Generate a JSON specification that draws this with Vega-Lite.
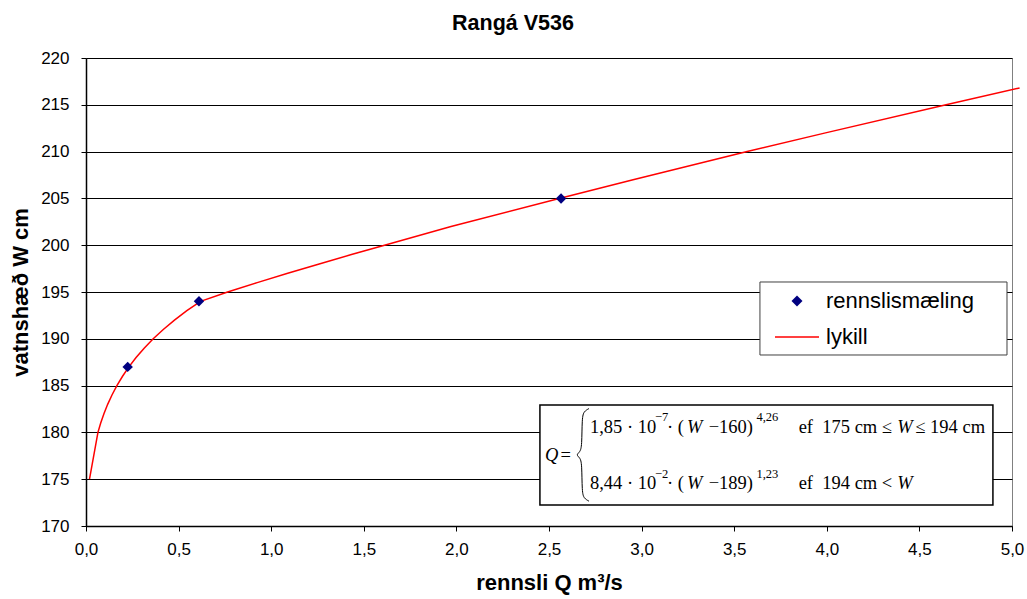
{
  "$schema": "https://vega.github.io/schema/vega-lite/v6.json",
  "width": 926,
  "height": 468,
  "autosize": {"type": "none"},
  "padding": {"left": 86, "top": 58, "right": 15, "bottom": 73},
  "background": "white",
  "config": {
    "font": "Liberation Sans",
    "view": {"stroke": "#808080", "strokeWidth": 1},
    "axis": {"labelFont": "Liberation Sans", "titleFont": "Liberation Sans", "labelColor": "#000000", "titleColor": "#000000"}
  },
  "title": {
    "text": "Rangá V536",
    "font": "Liberation Sans",
    "fontSize": 21.5,
    "fontWeight": "bold",
    "color": "#000000",
    "anchor": "middle",
    "baseline": "alphabetic",
    "dx": -36,
    "offset": -2
  },
  "datasets": {
    "curve": [
      {"W": 175, "Q": 0.0189},
      {"W": 180, "Q": 0.0645},
      {"W": 181, "Q": 0.0794},
      {"W": 182, "Q": 0.0968},
      {"W": 183, "Q": 0.1170},
      {"W": 184, "Q": 0.1403},
      {"W": 185, "Q": 0.1669},
      {"W": 186, "Q": 0.1973},
      {"W": 187, "Q": 0.2316},
      {"W": 188, "Q": 0.2704},
      {"W": 189, "Q": 0.3140},
      {"W": 190, "Q": 0.3629},
      {"W": 191, "Q": 0.4173},
      {"W": 192, "Q": 0.4777},
      {"W": 193, "Q": 0.5445},
      {"W": 194, "Q": 0.6184},
      {"W": 195, "Q": 0.7646},
      {"W": 196, "Q": 0.9243},
      {"W": 197, "Q": 1.0893},
      {"W": 198, "Q": 1.2592},
      {"W": 199, "Q": 1.4333},
      {"W": 200, "Q": 1.6118},
      {"W": 202, "Q": 1.971},
      {"W": 205, "Q": 2.555},
      {"W": 207, "Q": 2.954},
      {"W": 210, "Q": 3.570},
      {"W": 212, "Q": 3.993},
      {"W": 215, "Q": 4.644},
      {"W": 216.8, "Q": 5.041}
    ],
    "measured": [
      {"W": 187, "Q": 0.225},
      {"W": 194, "Q": 0.61},
      {"W": 205, "Q": 2.565}
    ],
    "box": [
      {"Q": 2.451, "Q2": 4.897, "W": 172.24, "W2": 182.93}
    ],
    "legendbox": [
      {"Q": 3.639, "Q2": 4.973, "W": 188.27, "W2": 196.07}
    ],
    "brace": [
      {"k": 1, "Q": 2.716, "W": 182.55},
      {"k": 2, "Q": 2.689, "W": 182.25},
      {"k": 3, "Q": 2.678, "W": 181.6},
      {"k": 4, "Q": 2.678, "W": 178.5},
      {"k": 5, "Q": 2.667, "W": 177.9},
      {"k": 6, "Q": 2.646, "W": 177.6},
      {"k": 7, "Q": 2.667, "W": 177.3},
      {"k": 8, "Q": 2.678, "W": 176.7},
      {"k": 9, "Q": 2.678, "W": 173.6},
      {"k": 10, "Q": 2.689, "W": 172.95},
      {"k": 11, "Q": 2.716, "W": 172.65}
    ],
    "fnormal": [
      {"Q": 2.562, "W": 177.59, "t": "="},
      {"Q": 2.721, "W": 180.58, "t": "1,85\u00a0·\u00a010"},
      {"Q": 3.137, "W": 180.58, "t": "\u00a0·\u00a0("},
      {"Q": 3.362, "W": 180.58, "t": "−160)"},
      {"Q": 3.848, "W": 180.58, "t": "ef\u00a0\u00a0175\u00a0cm\u00a0≤"},
      {"Q": 4.478, "W": 180.58, "t": "≤\u00a0194\u00a0cm"},
      {"Q": 2.721, "W": 174.59, "t": "8,44\u00a0·\u00a010"},
      {"Q": 3.137, "W": 174.59, "t": "\u00a0·\u00a0("},
      {"Q": 3.362, "W": 174.59, "t": "−189)"},
      {"Q": 3.848, "W": 174.59, "t": "ef\u00a0\u00a0194\u00a0cm\u00a0<"}
    ],
    "fitalic": [
      {"Q": 2.478, "W": 177.59, "t": "Q"},
      {"Q": 3.245, "W": 180.58, "t": "W"},
      {"Q": 4.380, "W": 180.58, "t": "W"},
      {"Q": 3.245, "W": 174.59, "t": "W"},
      {"Q": 4.380, "W": 174.59, "t": "W"}
    ],
    "fsup": [
      {"Q": 3.072, "W": 181.6, "t": "−7"},
      {"Q": 3.620, "W": 181.6, "t": "4,26"},
      {"Q": 3.072, "W": 175.6, "t": "−2"},
      {"Q": 3.620, "W": 175.6, "t": "1,23"}
    ]
  },
  "encoding": {
    "x": {
      "field": "Q",
      "type": "quantitative",
      "title": "rennsli Q m³/s",
      "scale": {"domain": [0, 5], "nice": false, "zero": false},
      "axis": {
        "values": [0, 0.5, 1, 1.5, 2, 2.5, 3, 3.5, 4, 4.5, 5],
        "labelExpr": "replace(format(datum.value, '.1f'), '.', ',')",
        "grid": false,
        "domainColor": "#000000",
        "domainWidth": 1.5,
        "tickColor": "#000000",
        "tickSize": 5,
        "tickWidth": 1,
        "labelFontSize": 17,
        "labelPadding": 10,
        "labelFlush": false,
        "labelOverlap": false,
        "titleFontSize": 22,
        "titleFontWeight": "bold",
        "titlePadding": 15
      }
    },
    "y": {
      "field": "W",
      "type": "quantitative",
      "title": "vatnshæð W cm",
      "scale": {"domain": [170, 220], "nice": false, "zero": false},
      "axis": {
        "values": [170, 175, 180, 185, 190, 195, 200, 205, 210, 215, 220],
        "format": "d",
        "grid": true,
        "gridColor": "#000000",
        "gridWidth": 1,
        "domainColor": "#000000",
        "domainWidth": 1.5,
        "tickColor": "#000000",
        "tickSize": 5,
        "tickWidth": 1,
        "labelFontSize": 17,
        "labelPadding": 12,
        "labelFlush": false,
        "labelOverlap": false,
        "titleFontSize": 22,
        "titleFontWeight": "bold",
        "titlePadding": 8
      }
    }
  },
  "layer": [
    {
      "data": {"name": "box"},
      "mark": {"type": "rect", "fill": "#ffffff", "stroke": "#000000", "strokeWidth": 1.5},
      "encoding": {"x2": {"field": "Q2"}, "y2": {"field": "W2"}}
    },
    {
      "data": {"name": "legendbox"},
      "mark": {"type": "rect", "fill": "#ffffff", "stroke": "#404040", "strokeWidth": 1},
      "encoding": {"x2": {"field": "Q2"}, "y2": {"field": "W2"}}
    },
    {
      "data": {"name": "brace"},
      "mark": {"type": "line", "color": "#000000", "strokeWidth": 1, "interpolate": "basis"},
      "encoding": {"order": {"field": "k", "type": "quantitative"}}
    },
    {
      "data": {"name": "fnormal"},
      "mark": {"type": "text", "align": "left", "baseline": "middle", "font": "Liberation Serif", "fontSize": 18.5, "color": "#000000"},
      "encoding": {"text": {"field": "t", "type": "nominal"}}
    },
    {
      "data": {"name": "fitalic"},
      "mark": {"type": "text", "align": "left", "baseline": "middle", "font": "Liberation Serif", "fontStyle": "italic", "fontSize": 18.5, "color": "#000000"},
      "encoding": {"text": {"field": "t", "type": "nominal"}}
    },
    {
      "data": {"name": "fsup"},
      "mark": {"type": "text", "align": "left", "baseline": "middle", "font": "Liberation Serif", "fontSize": 12.5, "color": "#000000"},
      "encoding": {"text": {"field": "t", "type": "nominal"}}
    },
    {
      "data": {"name": "curve"},
      "mark": {"type": "line", "strokeWidth": 1.5, "clip": false},
      "encoding": {
        "stroke": {
          "datum": "lykill",
          "type": "nominal",
          "scale": {"domain": ["lykill"], "range": ["#ff0000"]},
          "legend": {
            "title": null,
            "orient": "none",
            "legendX": 688,
            "legendY": 256,
            "padding": 0,
            "symbolOffset": 0,
            "symbolType": "stroke",
            "symbolSize": 1936,
            "symbolStrokeWidth": 1.5,
            "labelOffset": 6,
            "labelFont": "Liberation Sans",
            "labelFontSize": 22,
            "labelColor": "#000000",
            "labelLimit": 400,
            "strokeColor": null,
            "fillColor": null
          }
        }
      }
    },
    {
      "data": {"name": "measured"},
      "mark": {"type": "point", "shape": "diamond", "filled": true, "size": 110, "opacity": 1},
      "encoding": {
        "fill": {
          "datum": "rennslismæling",
          "type": "nominal",
          "scale": {"domain": ["rennslismæling"], "range": ["#000080"]},
          "legend": {
            "title": null,
            "orient": "none",
            "legendX": 700,
            "legendY": 232,
            "padding": 0,
            "symbolOffset": 0,
            "symbolType": "diamond",
            "symbolSize": 121,
            "symbolOpacity": 1,
            "labelOffset": 18,
            "labelFont": "Liberation Sans",
            "labelFontSize": 22,
            "labelColor": "#000000",
            "labelLimit": 400,
            "strokeColor": null,
            "fillColor": null
          }
        }
      }
    }
  ]
}
